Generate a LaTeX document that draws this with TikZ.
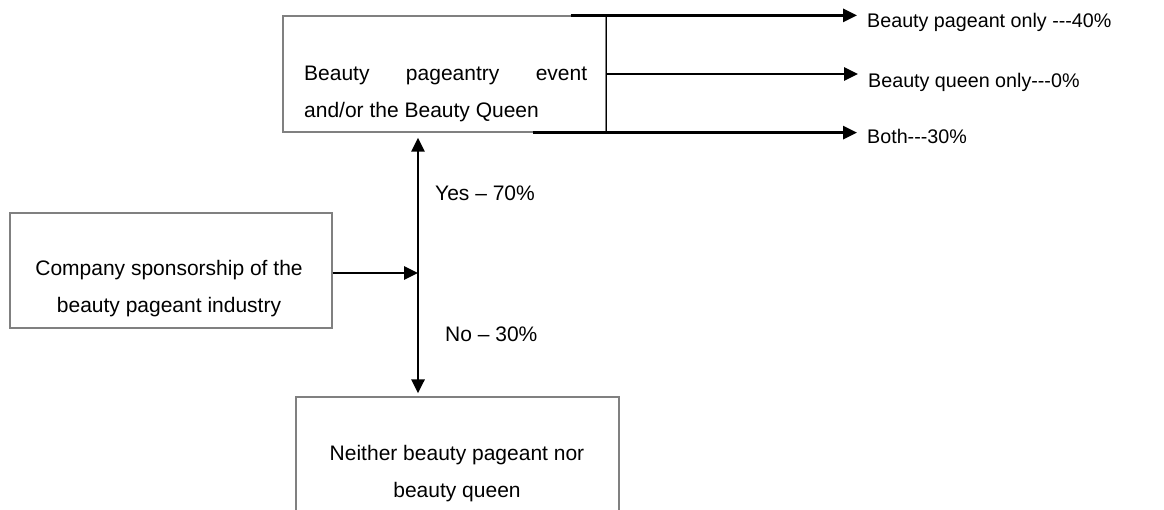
\documentclass[tikz,border=0pt]{standalone}
\usepackage{fontspec}
\setmainfont{Liberation Sans}
\usetikzlibrary{positioning,arrows.meta,calc}

\begin{document}
\begin{tikzpicture}[
  x=1pt, y=-1pt,
  box/.style={draw=gray, line width=1.2pt, inner sep=0pt},
  boxtext/.style={inner sep=0pt, anchor=base, align=center,
                  font=\fontsize{21}{37}\selectfont},
  tag/.style={inner sep=0pt, anchor=base west,
              font=\fontsize{21}{25}\selectfont},
  outcome/.style={inner sep=0pt, anchor=base west,
                  font=\fontsize{19.7}{24}\selectfont},
  arr/.style={line width=2.8pt},
  >={Triangle[length=14pt,width=13pt]}
]
\useasboundingbox (0,0) rectangle (1164,509);

% Boxes
\node[box, minimum width=323pt, minimum height=116pt] (pageant) at (444.5, 74) {};
\node[box, minimum width=322pt, minimum height=115pt] (sponsor) at (171, 270.5) {};
\node[box, minimum width=323pt, minimum height=148pt] (neither) at (457.5, 471) {};

% Box texts (base = last line)
\node[boxtext, anchor=base west, text width=283pt, align=justify] (pageanttxt)
  at (304, 80) {Beauty pageantry event\linebreak and/or the Beauty Queen};
\node[boxtext] (sponsortxt) at (169, 312)
  {Company sponsorship of the\\beauty pageant industry};
\node[boxtext] (neithertxt) at (457, 497)
  {Neither beauty pageant nor\\beauty queen};

% Outcomes
\node[outcome] (only) at (867, 27) {Beauty pageant only -{}-{}-40\%};
\node[outcome] (queen) at (868, 87) {Beauty queen only-{}-{}-0\%};
\node[outcome] (both) at (867, 143) {Both-{}-{}-30\%};

% Yes / No
\node[tag] (yes) at (435, 200) {Yes – 70\%};
\node[tag] (no) at (445, 341) {No – 30\%};

% Branch points
\coordinate (pa) at ($(pageant.north east)+(-36,0)$);
\coordinate (pc) at ($(pageant.south east)+(-74,0)$);
\coordinate (junc) at (418, 273);

% Arrows
\draw[line width=1pt] (pageant.north east) -- (pageant.south east);
\draw[arr, ->, shorten >=10pt] (pa) -- (pa -| only.west);
\draw[arr, ->, shorten >=10pt] (pageant.east) -- (pageant.east -| queen.west);
\draw[arr, ->, shorten >=10pt] (pc) -- (pc -| both.west);
\draw[arr, ->] (sponsor.east |- junc) -- (junc);
\draw[arr, <->, shorten <=5pt, shorten >=3pt]
  (junc |- pageant.south) -- (junc |- neither.north);

\end{tikzpicture}
\end{document}
